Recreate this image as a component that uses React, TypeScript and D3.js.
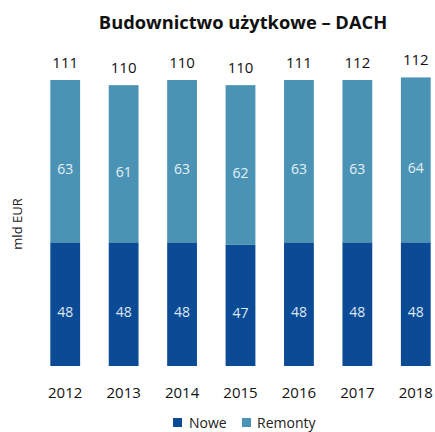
import React from "react";
import * as d3 from "d3";

const years = ["2012", "2013", "2014", "2015", "2016", "2017", "2018"];
const nowe = [48, 48, 48, 47, 48, 48, 48];
const remonty = [63, 61, 63, 62, 63, 63, 64];
const totals = [111, 110, 110, 110, 111, 112, 112];

const W = 435;
const H = 432;
const DARK = "#0b4a95";
const LIGHT = "#4b93b4";
const FONT = "'Open Sans', sans-serif";

export default function App() {
  const x = d3.scaleBand().domain(years).range([36, 445]).paddingInner(0.49).paddingOuter(0.245);
  const y = d3.scaleLinear().domain([0, 111]).range([366, 80]);
  const bw = x.bandwidth();
  return (
    <svg width={W} height={H} style={{ position: "absolute", left: 0, top: 0 }}>
      <rect width={W} height={H} fill="#fff" />
      <text x={243} y={29} textAnchor="middle" fontFamily={FONT} fontWeight="bold" fontSize={18.3} fill="#111">
        Budownictwo użytkowe – DACH
      </text>
      <text transform="translate(22,224) rotate(-90)" textAnchor="middle" fontFamily={FONT} fontSize={13} fill="#222">
        mld EUR
      </text>
      {years.map((yr, i) => {
        const x0 = x(yr)!;
        const cx = x0 + bw / 2;
        const yN = y(nowe[i]);
        const yT = y(nowe[i] + remonty[i]);
        return (
          <g key={yr}>
            <rect x={x0} y={yN} width={bw} height={y(0) - yN} fill={DARK} />
            <rect x={x0} y={yT} width={bw} height={yN - yT} fill={LIGHT} />
            <text x={cx} y={(yN + y(0)) / 2 + 13} textAnchor="middle" fontFamily={FONT} fontSize={14} fill="#dfe8f3">
              {nowe[i]}
            </text>
            <text x={cx} y={(yT + yN) / 2 + 13} textAnchor="middle" fontFamily={FONT} fontSize={14} fill="#e4f0f5">
              {remonty[i]}
            </text>
            <text x={cx} y={yT - 12} textAnchor="middle" fontFamily={FONT} fontSize={15} fill="#111">
              {totals[i]}
            </text>
            <text x={cx} y={398} textAnchor="middle" fontFamily={FONT} fontSize={15} fill="#111">
              {yr}
            </text>
          </g>
        );
      })}
      <g fontFamily={FONT} fontSize={14} fill="#222">
        <rect x={173} y={418} width={9} height={9} fill={DARK} />
        <text x={189} y={428}>Nowe</text>
        <rect x={242} y={418} width={9} height={9} fill={LIGHT} />
        <text x={257} y={428}>Remonty</text>
      </g>
    </svg>
  );
}
